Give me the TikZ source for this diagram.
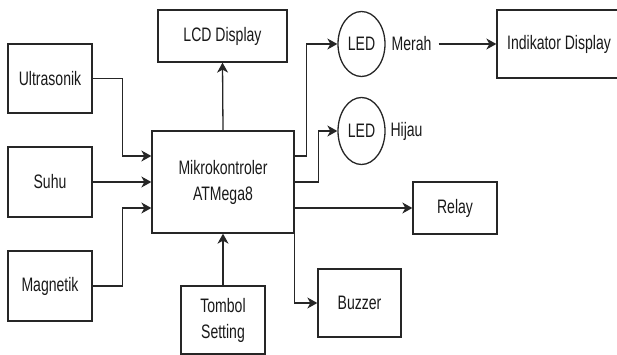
\documentclass[tikz,border=0pt]{standalone}
\usepackage{fontspec}
\setmainfont[FakeStretch=0.72]{Liberation Sans}
\usetikzlibrary{arrows.meta,shapes.geometric}
\tikzset{
  blk/.style={draw=black!85, line width=1.3pt, rectangle, inner sep=0pt, align=center,
    font=\fontsize{19.5}{26}\selectfont, text=black!90},
  led/.style={draw=black!85, line width=1.3pt, ellipse, inner sep=0pt,
    minimum width=47pt, minimum height=65pt, font=\fontsize{19.5}{26}\selectfont, text=black!90},
  lbl/.style={inner sep=0pt, font=\fontsize{19.5}{26}\selectfont, text=black!90},
  arr/.style={draw=black!85, line width=1.3pt, -{Stealth[length=10pt,width=11pt,inset=3pt]}}
}
\begin{document}
\begin{tikzpicture}[x=1pt,y=-1pt]
\useasboundingbox (0,0) rectangle (617,355);
\node[blk, minimum width=129pt, minimum height=52pt] (lcd) at (222.5,36) {LCD Display};
\node[blk, minimum width=84pt, minimum height=69pt] (ultra) at (50,78.5) {Ultrasonik};
\node[blk, minimum width=84pt, minimum height=70pt] (suhu) at (50,182) {Suhu};
\node[blk, minimum width=84pt, minimum height=70pt] (mag) at (50,286) {Magnetik};
\node[blk, minimum width=142pt, minimum height=102pt] (micro) at (223,182) {Mikrokontroler\\ATMega8};
\node[blk, minimum width=84pt, minimum height=68pt] (tombol) at (223,320) {Tombol\\Setting};
\node[led] (ledm) at (361.5,44) {LED};
\node[led, minimum height=67pt] (ledh) at (361.5,131) {LED};
\node[lbl, inner xsep=7pt] (merah) at (411.5,44) {Merah};
\node[lbl] (hijau) at (406.5,131) {Hijau};
\node[blk, minimum width=124pt, minimum height=68pt] (ind) at (559,44) {Indikator Display};
\node[blk, minimum width=84pt, minimum height=52pt] (relay) at (455,208) {Relay};
\node[blk, minimum width=83pt, minimum height=68pt] (buzzer) at (359.5,303) {Buzzer};

\draw[arr] (ultra.east) -- ++(30,0) |- ([yshift=26pt]micro.west);
\draw[arr] (suhu.east) -- (micro.west);
\draw[arr] (mag.east) -- ++(30,0) |- ([yshift=-26pt]micro.west);
\draw[arr] (micro.north) -- (lcd.south);
\draw[arr] (tombol.north) -- (micro.south);
\draw[arr] ([yshift=26pt]micro.east) -- ++(12,0) |- (ledm.west);
\draw[arr] (micro.east) -- ++(24,0) |- (ledh.west);
\draw[arr] ([yshift=-26pt]micro.east) -- (relay.west);
\draw[arr] (micro.south east) |- (buzzer.west);
\draw[arr] (merah.east) -- (ind.west);
\end{tikzpicture}
\end{document}
